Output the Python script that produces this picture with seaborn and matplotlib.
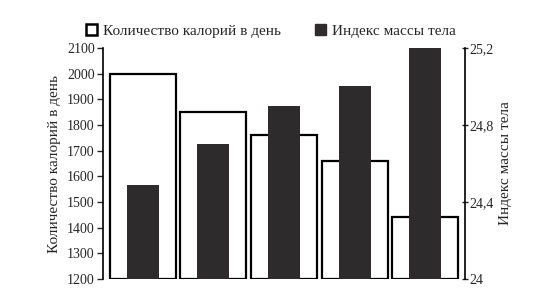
import matplotlib
matplotlib.use("Agg")
import matplotlib.pyplot as plt
import seaborn as sns
import pandas as pd
from matplotlib.patches import Patch

groups = ["1", "2", "3", "4", "5"]
calories = [2000, 1850, 1760, 1660, 1440]
bmi = [24.49, 24.7, 24.9, 25.0, 25.2]
cal_ticks = [1200, 1300, 1400, 1500, 1600, 1700, 1800, 1900, 2000, 2100]
bmi_ticks = [24.0, 24.4, 24.8, 25.2]
bmi_ticklabels = ["24", "24,4", "24,8", "25,2"]

sns.set_style("white")
plt.rcParams["font.family"] = ["Liberation Serif", "DejaVu Serif"]

df = pd.DataFrame({"g": groups, "cal": calories, "bmi": bmi})

fig = plt.figure(figsize=(5.37, 2.91), dpi=100)
ax = fig.add_axes([103/537, 1 - 279/291, (465-103)/537, (279-48)/291])

sns.barplot(data=df, x="g", y="cal", ax=ax, color="white", edgecolor="black",
            linewidth=1.6, width=0.935, saturation=1)
for p in ax.patches:
    h = p.get_height()
    p.set_y(1200)
    p.set_height(h - 1200)
ax.set_ylim(1200, 2100)
ax.set_yticks(cal_ticks)
ax.set_xlim(-0.56, 4.56)
ax.set_xlabel("")
ax.set_ylabel("Количество калорий в день", fontsize=11, labelpad=4)
ax.set_xticks([])
ax.tick_params(axis="y", labelsize=10, length=4, width=1, direction="out", pad=2, left=True)
for s in ["top", "bottom", "right"]:
    ax.spines[s].set_visible(False)
ax.spines["left"].set_linewidth(1.2)
ax.spines["left"].set_color("black")

ax2 = ax.twinx()
sns.barplot(data=df, x="g", y="bmi", ax=ax2, color="#2d2b2c", width=0.45,
            saturation=1, linewidth=0)
ax2.set_ylim(24.0, 25.2)
ax2.set_yticks(bmi_ticks)
ax2.set_yticklabels(bmi_ticklabels)
ax2.set_xlim(-0.56, 4.56)
ax2.set_xticks([])
ax2.set_xlabel("")
ax2.set_ylabel("Индекс массы тела", fontsize=11, labelpad=4)
ax2.tick_params(axis="y", labelsize=10, length=4, width=1, direction="inout", pad=1, right=True)
for s in ["top", "bottom", "left"]:
    ax2.spines[s].set_visible(False)
ax2.spines["right"].set_linewidth(1.2)
ax2.spines["right"].set_color("black")

handles = [Patch(facecolor="white", edgecolor="black", linewidth=1.8, label="Количество калорий в день"),
           Patch(facecolor="#2d2b2c", edgecolor="#2d2b2c", label="Индекс массы тела")]
fig.legend(handles=handles, loc="center", bbox_to_anchor=(271/537, 1 - 31/291), ncol=2,
           frameon=False, fontsize=11, handlelength=0.75, handleheight=0.75,
           handletextpad=0.4, columnspacing=2.2)

fig.savefig("out.png", dpi=100)
